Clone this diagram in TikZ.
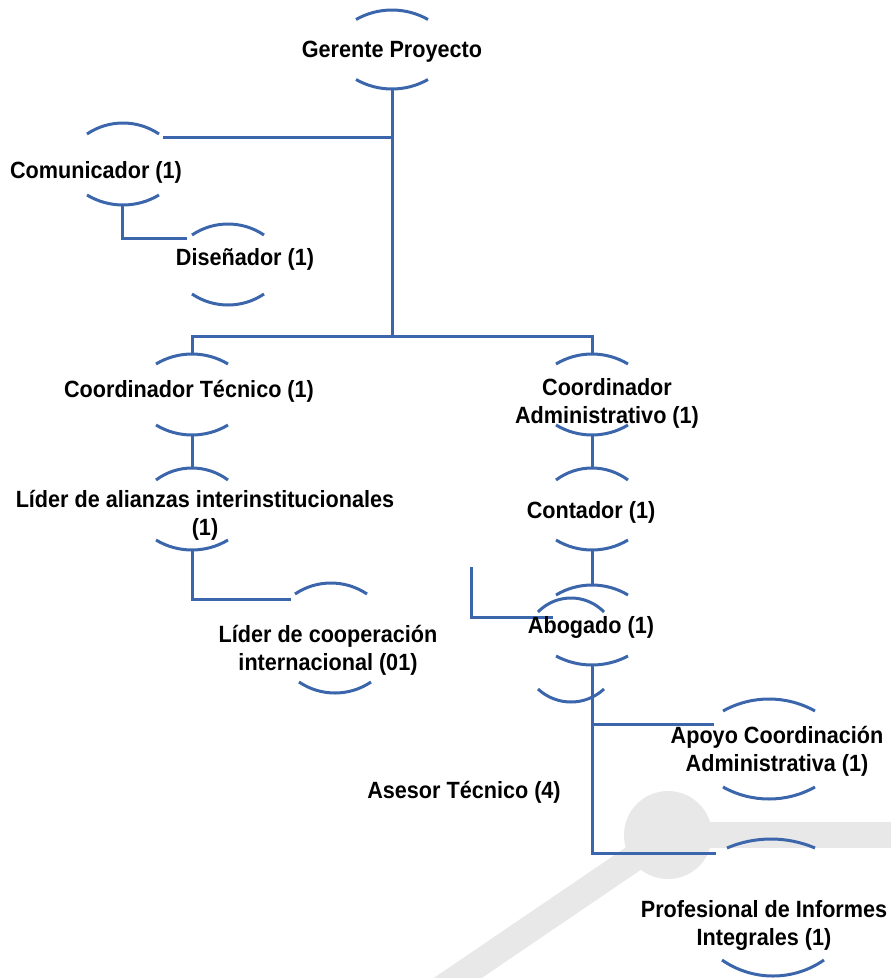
\documentclass[tikz,border=0pt]{standalone}
\usepackage{fontspec}
\setmainfont[FakeStretch=0.92]{Liberation Sans}
\definecolor{orgblue}{RGB}{60,102,172}
\definecolor{wmgray}{RGB}{232,232,232}
\newcommand\orgarcup[4]{% cx, peak y, half width, sag (y grows downward)
  \pgfmathsetmacro\orgR{(#3*#3+#4*#4)/(2*#4)}%
  \pgfmathsetmacro\orgT{asin(#3/\orgR)}%
  \draw[arcline] ({#1-#3},{#2+#4}) arc[start angle={270-\orgT}, end angle={270+\orgT}, radius=\orgR];}
\newcommand\orgarcdown[4]{% cx, bottom y, half width, sag
  \pgfmathsetmacro\orgR{(#3*#3+#4*#4)/(2*#4)}%
  \pgfmathsetmacro\orgT{asin(#3/\orgR)}%
  \draw[arcline] ({#1-#3},{#2-#4}) arc[start angle={90+\orgT}, end angle={90-\orgT}, radius=\orgR];}
\begin{document}
\begin{tikzpicture}[x=1pt,y=-1pt]
\tikzset{
  arcline/.style={draw=orgblue, line width=3pt},
  conn/.style={draw=orgblue, line width=3pt},
  lbl/.style={font=\bfseries\fontsize{23.5}{28}\selectfont, inner sep=0pt, anchor=base, align=center, text=black},
  wm/.style={draw=wmgray, line width=26pt}
}
\useasboundingbox (0,0) rectangle (891,978);
% watermark
\begin{scope}
\clip (0,0) rectangle (891,978);
\fill[wmgray] (668,835) circle[radius=44];
\draw[wm] (668,835) -- (900,835);
\draw[wm, line width=27pt] (668,835) -- ++(-300,204);
\end{scope}
% connector points
\coordinate (ger-b) at (392,89);
\coordinate (hub) at (392,336);
\coordinate (com-r) at (163,137);
\coordinate (com-b) at (122,205);
\coordinate (dis-l) at (187,238);
\coordinate (ct-t) at (192,354);
\coordinate (ct-b) at (192,435);
\coordinate (lai-t) at (192,468);
\coordinate (lai-b) at (192,550);
\coordinate (lci-l) at (291,599);
\coordinate (ca-t) at (592,354);
\coordinate (ca-b) at (592,435);
\coordinate (cont-t) at (592,468);
\coordinate (cont-b) at (592,550);
\coordinate (abo-t) at (592,585);
\coordinate (abo-b) at (592,665);
\coordinate (abx-top) at (471,567);
\coordinate (abx-end) at (553,617);
\coordinate (apo-l) at (714,724);
\coordinate (pro-l) at (716,853);
% connectors
\draw[conn] (ger-b) -- (hub);
\draw[conn] (ger-b |- com-r) -- (com-r);
\draw[conn] (com-b) |- (dis-l);
\draw[conn] (ct-t) |- (hub) -| (ca-t);
\draw[conn] (ct-b) -- (lai-t);
\draw[conn] (lai-b) |- (lci-l);
\draw[conn] (ca-b) -- (cont-t);
\draw[conn] (cont-b) -- (abo-t);
\draw[conn] (abx-top) |- (abx-end);
\draw[conn] (abo-b) -- (abo-b |- pro-l) -- (pro-l);
\draw[conn] (abo-b |- apo-l) -- (apo-l);
% arcs
\orgarcup{392}{10}{36}{9.5}  \orgarcdown{392}{89}{36}{9.5}
\orgarcup{123}{123}{36}{11}  \orgarcdown{123}{205}{36}{10}
\orgarcup{228}{224}{36}{11}  \orgarcdown{228}{305}{36}{11}
\orgarcup{192}{354}{36}{10}  \orgarcdown{192}{435}{36}{10}
\orgarcup{192}{468}{36}{12}  \orgarcdown{192}{550}{36}{10}
\orgarcup{331}{583}{36}{11}  \orgarcdown{335}{693}{36}{11}
\orgarcup{592}{354}{36}{10}  \orgarcdown{592}{435}{36}{10}
\orgarcup{592}{468}{36}{12}  \orgarcdown{592}{550}{36}{10}
\orgarcup{592}{585}{36}{10}  \orgarcdown{592}{665}{36}{9}
\orgarcup{571}{598}{33}{14}  \orgarcdown{571}{702}{33}{13}
\orgarcup{769}{699}{46}{12}  \orgarcdown{769}{799}{46}{12}
\orgarcup{771}{839}{44}{9}   \orgarcdown{773}{976}{51}{16}
% labels (multi-line nodes: base anchor is the last line's baseline)
\node[lbl] (ger) at (392,57) {Gerente Proyecto};
\node[lbl] (com) at (96,178) {Comunicador (1)};
\node[lbl] (dis) at (245,265) {Diseñador (1)};
\node[lbl] (ct) at (189,397) {Coordinador Técnico (1)};
\node[lbl] (lai) at (205,535) {Líder de alianzas interinstitucionales\\(1)};
\node[lbl] (lci) at (328,670) {Líder de cooperación\\internacional (01)};
\node[lbl] (ca) at (607,423) {Coordinador\\Administrativo (1)};
\node[lbl] (cont) at (591,518) {Contador (1)};
\node[lbl] (abo) at (591,633) {Abogado (1)};
\node[lbl] (apo) at (777,771) {Apoyo Coordinación\\Administrativa (1)};
\node[lbl] (ase) at (464,798) {Asesor Técnico (4)};
\node[lbl] (pro) at (764,945) {Profesional de Informes\\Integrales (1)};
\end{tikzpicture}
\end{document}
